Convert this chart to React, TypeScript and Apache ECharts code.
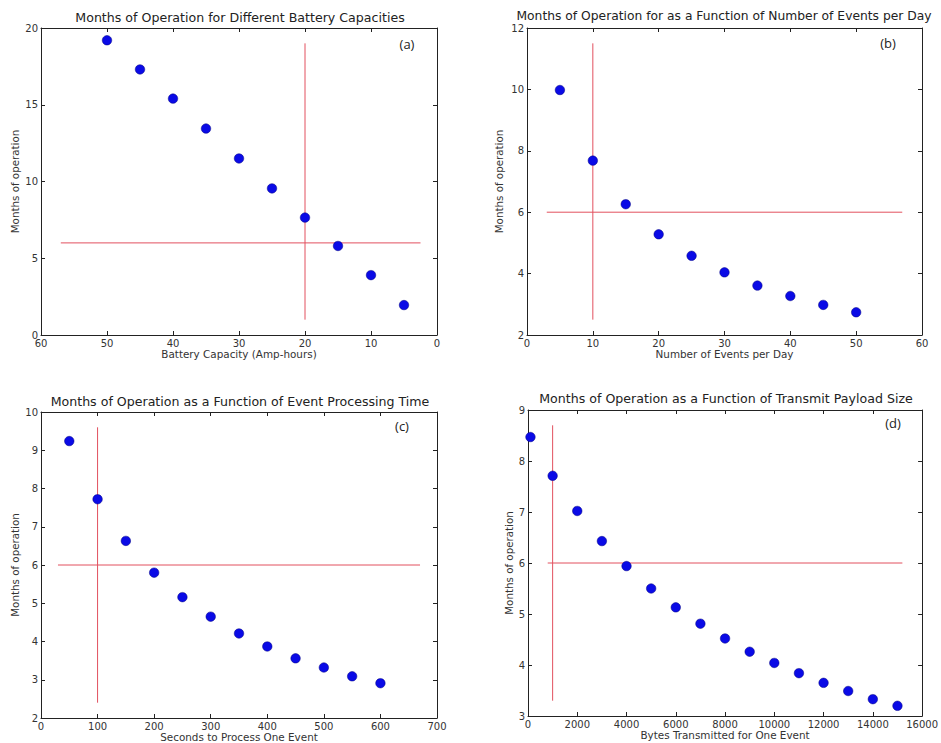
import React, { useEffect, useRef } from "react";
import * as echarts from "echarts";

// Panel (a)
const aX = [50, 45, 40, 35, 30, 25, 20, 15, 10, 5];
const aY = [19.2, 17.3, 15.4, 13.45, 11.5, 9.55, 7.65, 5.8, 3.9, 1.95];
const aV = [[20, 1], [20, 19]];
const aH = [[57, 6], [2.5, 6]];
// Panel (b)
const bX = [5, 10, 15, 20, 25, 30, 35, 40, 45, 50];
const bY = [9.98, 7.68, 6.26, 5.28, 4.58, 4.04, 3.61, 3.27, 2.98, 2.74];
const bV = [[10, 2.5], [10, 11.5]];
const bH = [[3, 6], [57, 6]];
// Panel (c)
const cX = [50, 100, 150, 200, 250, 300, 350, 400, 450, 500, 550, 600];
const cY = [9.24, 7.72, 6.63, 5.8, 5.16, 4.65, 4.21, 3.87, 3.56, 3.32, 3.09, 2.91];
const cV = [[100, 2.4], [100, 9.6]];
const cH = [[30, 6], [670, 6]];
// Panel (d)
const dX = [100, 1000, 2000, 3000, 4000, 5000, 6000, 7000, 8000, 9000, 10000, 11000, 12000, 13000, 14000, 15000];
const dY = [8.47, 7.71, 7.02, 6.43, 5.94, 5.5, 5.13, 4.81, 4.52, 4.26, 4.04, 3.84, 3.65, 3.49, 3.33, 3.2];
const dV = [[1000, 3.3], [1000, 8.7]];
const dH = [[800, 6], [15200, 6]];

const titles = [
  "Months of Operation for Different Battery Capacities",
  "Months of Operation for as a Function of Number of Events per Day",
  "Months of Operation as a Function of Event Processing Time",
  "Months of Operation as a Function of Transmit Payload Size",
];
const xNames = [
  "Battery Capacity (Amp-hours)",
  "Number of Events per Day",
  "Seconds to Process One Event",
  "Bytes Transmitted for One Event",
];
const yName = "Months of operation";
const panelTags = ["(a)", "(b)", "(c)", "(d)"];

const FONT = "DejaVu Sans";

export default function App() {
  const ref = useRef<HTMLDivElement>(null);
  useEffect(() => {
    document.body.style.margin = "0";
    const chart = echarts.init(ref.current!, undefined, { renderer: "svg" });

    const panels = [
      { xs: aX, ys: aY, v: aV, h: aH, grid: { left: 41, top: 28, width: 396, height: 307 }, x: [0, 60, 10], y: [0, 20, 5], inv: true, xGap: 13, yGap: 21, title: [240, 17], tag: [407, 44] },
      { xs: bX, ys: bY, v: bV, h: bH, grid: { left: 527, top: 28, width: 395, height: 307 }, x: [0, 60, 10], y: [2, 12, 2], inv: false, xGap: 13, yGap: 23, title: [724, 15.5], tag: [888, 43] },
      { xs: cX, ys: cY, v: cV, h: cH, grid: { left: 41, top: 412, width: 396, height: 306 }, x: [0, 700, 100], y: [2, 10, 1], inv: false, xGap: 14, yGap: 21, title: [240, 401], tag: [402, 426] },
      { xs: dX, ys: dY, v: dV, h: dH, grid: { left: 528, top: 410, width: 396, height: 306 }, x: [0, 16000, 2000], y: [3, 9, 1], inv: false, xGap: 14, yGap: 14, title: [726, 398], tag: [893, 423] },
    ];

    const axisLine = { show: true, onZero: false, lineStyle: { color: "#222", width: 1 } };
    const tick = { show: true, inside: true, length: 4, lineStyle: { color: "#222" } };
    const label = { fontFamily: FONT, fontSize: 10, color: "#333", formatter: (v: number) => String(v) };

    const grid: any[] = [];
    const xAxis: any[] = [];
    const yAxis: any[] = [];
    const series: any[] = [];
    const graphic: any[] = [];

    panels.forEach((p, i) => {
      grid.push(p.grid);
      const xBase = { type: "value", gridIndex: i, min: p.x[0], max: p.x[1], interval: p.x[2], inverse: p.inv, splitLine: { show: false }, axisLine, axisTick: tick };
      const yBase = { type: "value", gridIndex: i, min: p.y[0], max: p.y[1], interval: p.y[2], splitLine: { show: false }, axisLine, axisTick: tick };
      xAxis.push({
        ...xBase,
        position: "bottom",
        axisLabel: { ...label, margin: 3 },
        name: xNames[i],
        nameLocation: "middle",
        nameGap: p.xGap,
        nameTextStyle: { fontFamily: FONT, fontSize: 10.4, color: "#333" },
      });
      xAxis.push({ ...xBase, position: "top", axisLabel: { show: false } });
      yAxis.push({
        ...yBase,
        position: "left",
        axisLabel: { ...label, margin: 3 },
        name: yName,
        nameLocation: "middle",
        nameGap: p.yGap,
        nameTextStyle: { fontFamily: FONT, fontSize: 10.3, color: "#333" },
      });
      yAxis.push({ ...yBase, position: "right", axisLabel: { show: false } });

      const xi = i * 2;
      const yi = i * 2;
      const lineStyle = { color: "#e2505e", width: 1 };
      series.push({ type: "line", xAxisIndex: xi, yAxisIndex: yi, data: p.v, symbol: "none", lineStyle, silent: true });
      series.push({ type: "line", xAxisIndex: xi, yAxisIndex: yi, data: p.h, symbol: "none", lineStyle, silent: true });
      series.push({
        type: "scatter",
        xAxisIndex: xi,
        yAxisIndex: yi,
        data: p.xs.map((x, k) => [x, p.ys[k]]),
        symbolSize: 9.5,
        itemStyle: { color: "#0a0ae6", borderColor: "#000080", borderWidth: 0.5, opacity: 1 },
        z: 5,
      });

      graphic.push({
        type: "text",
        x: p.title[0],
        y: p.title[1],
        style: { text: titles[i], fontFamily: FONT, fontSize: i === 1 ? 12.3 : 12.6, fill: "#222", textAlign: "center", textVerticalAlign: "middle" },
      });
      graphic.push({
        type: "text",
        x: p.tag[0],
        y: p.tag[1],
        style: { text: panelTags[i], fontFamily: "Open Sans", fontSize: 13, fill: "#222", textAlign: "center", textVerticalAlign: "middle" },
      });
    });

    chart.setOption({
      animation: false,
      backgroundColor: "#fff",
      grid,
      xAxis,
      yAxis,
      series,
      graphic,
    });
    return () => chart.dispose();
  }, []);
  return <div ref={ref} style={{ width: 941, height: 743 }} />;
}
